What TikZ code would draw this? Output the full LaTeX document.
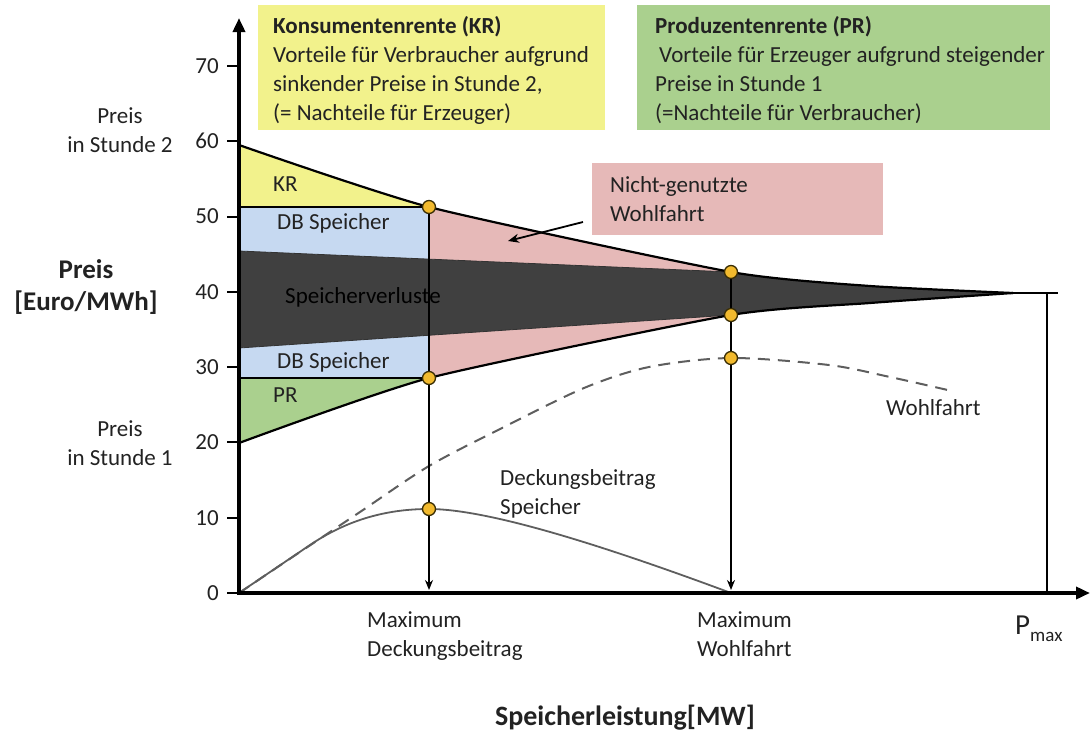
\documentclass[tikz,border=0pt]{standalone}
\usepackage{fontspec}
\setmainfont{Carlito}
\usetikzlibrary{arrows.meta}
\definecolor{kryellow}{HTML}{F2F28C}
\definecolor{prgreen}{HTML}{AAD08E}
\definecolor{nwpink}{HTML}{E6B9B8}
\definecolor{dbblue}{HTML}{C6D9F1}
\definecolor{lossgray}{HTML}{404040}
\definecolor{dotfill}{HTML}{F2BA2E}
\definecolor{dotline}{HTML}{3A2E05}
\definecolor{curvegray}{HTML}{5E5E5E}
\definecolor{txt}{HTML}{222222}
\begin{document}
\begin{tikzpicture}[x=1pt,y=-1pt,
  every node/.style={inner sep=0pt, text=txt, font=\fontsize{23}{29}\selectfont},
  boxshape/.style={anchor=north west, inner sep=0pt},
  infotext/.style={anchor=north west, align=left},
  dot/.style={circle, minimum size=13pt, inner sep=0pt, fill=dotfill, draw=dotline, line width=1.3pt},
  axis/.style={line width=3.5pt, -{Triangle[length=14pt,width=12pt]}},
  tick/.style={line width=2pt},
  envline/.style={line width=2.2pt, black},
  varrow/.style={line width=1.8pt, black, -{Stealth[length=10pt,width=8pt]}},
  lbl/.style={anchor=mid west}
]
\useasboundingbox (0,0) rectangle (1090,731);

% ---------- filled areas ----------
\fill[nwpink] plot[smooth,tension=.35] coordinates {(239,145) (429,207) (731,272) (870,286) (1013,293)}
   -- plot[smooth,tension=.35] coordinates {(1013,293) (870,303) (731,315) (429,378) (239,443)} -- cycle;
\begin{scope}
\clip plot[smooth,tension=.35] coordinates {(239,145) (429,207) (731,272) (870,286) (1013,293)}
   -- plot[smooth,tension=.35] coordinates {(1013,293) (870,303) (731,315) (429,378) (239,443)} -- cycle;
\fill[kryellow] (239,0) rectangle (429,207);
\fill[dbblue] (239,207) rectangle (429,378);
\fill[prgreen] (239,378) rectangle (429,600);
\fill[lossgray] (239,251) -- (731,272) -- (1070,150) -- (1070,450) -- (731,315) -- (239,348) -- cycle;
\draw[line width=0.8pt, black!80] (239,251) -- (731,272);
\draw[line width=0.8pt, black!80] (239,348) -- (731,315);
\end{scope}

% boundaries
\draw[line width=1.5pt] (239,207) -- (429,207);
\draw[line width=1.5pt] (239,378) -- (429,378);
\draw[envline] plot[smooth,tension=.35] coordinates {(239,145) (429,207) (731,272) (870,286) (1013,293)};
\draw[envline] plot[smooth,tension=.35] coordinates {(239,443) (429,378) (731,315) (870,303) (1013,293)};

% Wohlfahrt (dashed) and Deckungsbeitrag curves
\draw[line width=2pt, curvegray, dash pattern=on 12pt off 8pt]
  plot[smooth,tension=.5] coordinates {(239,593) (300,552) (360,512) (429,466) (502,428) (584,388) (649,367) (731,358) (829,365) (890,377) (952,391)};
\draw[line width=1.8pt, curvegray] (239,593) -- (310,545) .. controls (350,518) and (390,509) .. (429,509)
  .. controls (490,509) and (610,548) .. (731,593);

% ---------- coordinates ----------
\coordinate (o) at (239,593);
\coordinate (ytop) at (239,18);
\coordinate (xend) at (1090,593);
\coordinate (a1) at (429,590);
\coordinate (a2) at (731,590);
\coordinate (t1) at (429,207);
\coordinate (t2) at (731,272);
\coordinate (conv) at (1000,293);
\coordinate (pend) at (1058,293);
\coordinate (ptop) at (1047,293);
\coordinate (pbot) at (1047,593);

% vertical arrows
\draw[varrow] (t1) -- (a1);
\draw[varrow] (t2) -- (a2);
% Pmax
\draw[line width=1.5pt] (conv) -- (pend);
\draw[line width=2.4pt] (ptop) -- (pbot);

% axes
\draw[axis] (o) -- (ytop);
\draw[axis] ([xshift=-1.75pt]o) -- (xend);
\foreach \v/\y in {0/593,10/517.7,20/442.4,30/367.1,40/291.8,50/216.5,60/141.2,70/65.9}{
  \draw[tick] (227,\y) -- (239,\y);
  \node[anchor=east] (tick\v) at (219,\y) {\v};
}

% dots
\node[dot] (d1) at (429,207) {};
\node[dot] (d2) at (429,378) {};
\node[dot] (d3) at (429,509) {};
\node[dot] (d4) at (731,272) {};
\node[dot] (d5) at (731,315) {};
\node[dot] (d6) at (731,358) {};

% ---------- boxes ----------
\node[boxshape, fill=kryellow, minimum width=347pt, minimum height=125pt] (krbox) at (258,5) {};
\node[infotext] (kr) at (273,16) {\textbf{Konsumentenrente (KR)}\\Vorteile für Verbraucher aufgrund\\sinkender Preise in Stunde 2,\\(= Nachteile für Erzeuger)};
\node[boxshape, fill=prgreen, minimum width=413pt, minimum height=125pt] (prbox) at (637,5) {};
\node[infotext] (pr) at (655,16) {\textbf{Produzentenrente (PR)}\\\hspace*{4pt}Vorteile für Erzeuger aufgrund steigender\\Preise in Stunde 1\\(=Nachteile für Verbraucher)};
\node[boxshape, fill=nwpink, text width=255pt, align=left, inner xsep=18pt, minimum height=72pt] (nw) at (592,163)
  {Nicht-genutzte\\Wohlfahrt};
\coordinate (nwtip) at (508,241);
\draw[line width=1.8pt, -{Stealth[length=11pt,width=9pt]}] (nw.west |- 0,222) ++(-9,0) -- (nwtip);

% ---------- area labels ----------
\node[lbl] (lkr) at (273,189) {KR};
\node[lbl] (ldb1) at (277,227) {DB Speicher};
\node[lbl, text=black] (lloss) at (285,301) {Speicherverluste};
\node[lbl] (ldb2) at (277,366) {DB Speicher};
\node[lbl] (lpr) at (273,400) {PR};
\node[lbl] (lwf) at (886,413) {Wohlfahrt};
\node[anchor=north west, align=left] (ldbs) at (500,469) {Deckungsbeitrag\\Speicher};

% axis labels
\node[align=center] (p2) at (120,130) {Preis\\in Stunde 2};
\node[align=center] (p1) at (120,443) {Preis\\in Stunde 1};
\node[align=center, font=\fontsize{27}{32}\selectfont\bfseries] (ylab) at (86,287) {Preis\\{[}Euro/MWh{]}};
\node[anchor=north west, align=left] (mdb) at (367,611) {Maximum\\Deckungsbeitrag};
\node[anchor=north west, align=left] (mwf) at (697,611) {Maximum\\Wohlfahrt};
\node[anchor=base west] (pmax) at (1015,634) {\fontsize{29}{29}\selectfont P\raisebox{-7pt}{\fontsize{19}{19}\selectfont max}};
\node[font=\fontsize{28}{32}\selectfont\bfseries] (xlab) at (625,718) {Speicherleistung[MW]};
\end{tikzpicture}
\end{document}
